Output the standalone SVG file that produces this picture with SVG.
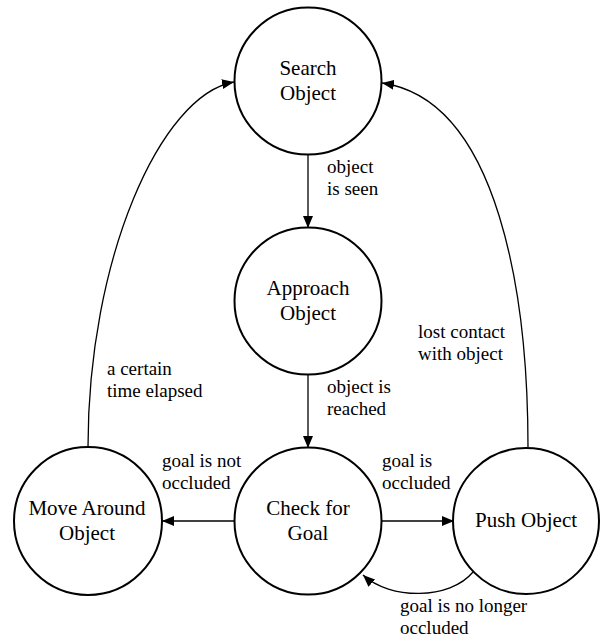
<svg xmlns="http://www.w3.org/2000/svg" width="600" height="639" viewBox="0 0 600 639">
  <style>
    .state { fill: #ffffff; stroke: #000000; stroke-width: 2; }
    .name { font-size: 21px; fill: #000000; text-anchor: middle; }
    .edge { fill: none; stroke: #000000; stroke-width: 1.3; marker-end: url(#arrow); }
    .cond { font-size: 19px; fill: #000000; }
  </style>
  <defs>
    <marker id="arrow" viewBox="0 0 12 10" refX="12" refY="5" markerWidth="12" markerHeight="10" markerUnits="userSpaceOnUse" orient="auto">
      <path d="M0,0 L12,5 L0,10 Z" fill="#000000"/>
    </marker>
  </defs>
  <rect width="600" height="639" fill="#ffffff"/>

  <!-- transitions -->
  <g id="connectors">
    <path class="edge" d="M308,155 L308,228"/>
    <path class="edge" d="M308,375 L308,448"/>
    <path class="edge" d="M234,521 L162,521"/>
    <path class="edge" d="M381,521 L454,521"/>
    <path class="edge" d="M88,447 C88,260 160,95 234,82"/>
    <path class="edge" d="M528,447 C528,300 500,100 382,83"/>
    <path class="edge" d="M473,572 C450,600 390,600 363,575"/>
  </g>

  <!-- transition conditions -->
  <g id="conditions" font-family="Times New Roman, Liberation Serif, serif">
    <text class="cond" x="327" y="173">object</text>
    <text class="cond" x="327" y="195">is seen</text>
    <text class="cond" x="327" y="393">object is</text>
    <text class="cond" x="327" y="415">reached</text>
    <text class="cond" x="107" y="375">a certain</text>
    <text class="cond" x="107" y="397">time elapsed</text>
    <text class="cond" x="418" y="338">lost contact</text>
    <text class="cond" x="418" y="360">with object</text>
    <text class="cond" x="162" y="467">goal is not</text>
    <text class="cond" x="162" y="489">occluded</text>
    <text class="cond" x="382" y="467">goal is</text>
    <text class="cond" x="382" y="489">occluded</text>
    <text class="cond" x="400" y="612">goal is no longer</text>
    <text class="cond" x="400" y="634">occluded</text>
  </g>

  <!-- states -->
  <g id="search-object">
    <circle class="state" cx="308" cy="81" r="73.5"/>
    <text class="name" font-family="Liberation Serif" x="308" y="75">Search</text>
    <text class="name" font-family="Liberation Serif" x="308" y="100">Object</text>
  </g>
  <g id="approach-object">
    <circle class="state" cx="308" cy="301" r="73.5"/>
    <text class="name" font-family="Liberation Serif" x="308" y="295">Approach</text>
    <text class="name" font-family="Liberation Serif" x="308" y="320">Object</text>
  </g>
  <g id="check-for-goal">
    <circle class="state" cx="308" cy="521" r="73.5"/>
    <text class="name" font-family="Liberation Serif" x="308" y="515">Check for</text>
    <text class="name" font-family="Liberation Serif" x="308" y="540">Goal</text>
  </g>
  <g id="move-around-object">
    <circle class="state" cx="88" cy="521" r="74"/>
    <text class="name" font-family="Liberation Serif" x="87" y="515">Move Around</text>
    <text class="name" font-family="Liberation Serif" x="87" y="540">Object</text>
  </g>
  <g id="push-object">
    <circle class="state" cx="526" cy="521" r="73"/>
    <text class="name" font-family="Liberation Serif" x="526" y="527">Push Object</text>
  </g>
</svg>
